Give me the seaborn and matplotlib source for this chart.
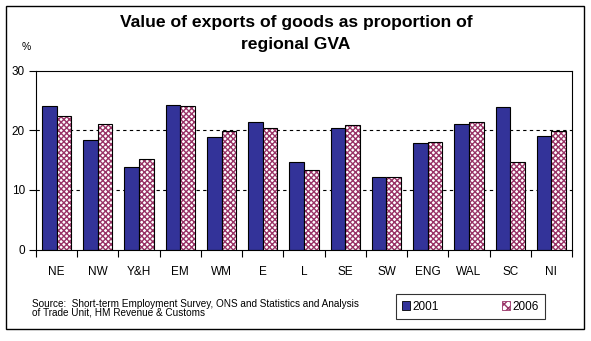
import matplotlib
matplotlib.use("Agg")
import matplotlib.pyplot as plt
import seaborn as sns
import pandas as pd
from matplotlib.patches import Rectangle, Patch
from matplotlib.ticker import FixedLocator

regions = ["NE", "NW", "Y&H", "EM", "WM", "E", "L", "SE", "SW", "ENG", "WAL", "SC", "NI"]
v2001 = [24.1, 18.3, 13.9, 24.3, 18.9, 21.3, 14.6, 20.3, 12.1, 17.8, 21.1, 23.8, 19.1]
v2006 = [22.3, 21.1, 15.2, 24.0, 19.9, 20.3, 13.4, 20.8, 12.2, 18.1, 21.4, 14.6, 19.8]
years = ["2001", "2006"]
yticks = [0, 10, 20, 30]

df = pd.DataFrame({
    "region": regions * 2,
    "year": [years[0]] * len(regions) + [years[1]] * len(regions),
    "value": v2001 + v2006,
})

sns.set_style("white")
plt.rcParams["font.family"] = ["Liberation Sans", "DejaVu Sans"]
plt.rcParams["hatch.linewidth"] = 1.0
for k in ["text.color", "axes.labelcolor", "xtick.color", "ytick.color"]:
    plt.rcParams[k] = "black"

fig = plt.figure(figsize=(5.91, 3.41), dpi=100)
ax = fig.add_axes([36/591, 91.5/341, 536/591, 179/341])

c2001 = "#333399"
c2006 = "#993366"
sns.barplot(data=df, x="region", y="value", hue="year", order=regions,
            hue_order=years, palette=[c2001, "white"], saturation=1,
            width=0.71, edgecolor="black", linewidth=0.8, ax=ax, legend=False,
            errorbar=None)

# second series: checkered pink pattern
n = len(regions)
for p in ax.patches[n:2*n]:
    p.set_facecolor("white")
    p.set_edgecolor(c2006)
    p.set_hatch("xxxxxx")
    p.set_linewidth(0)
    ax.add_patch(Rectangle(p.get_xy(), p.get_width(), p.get_height(),
                           facecolor="none", edgecolor="black", linewidth=0.8, zorder=p.get_zorder()+0.1))

ax.set_ylim(0, 30)
ax.set_xlim(-0.5, n - 0.5)
ax.set_yticks(yticks)
ax.set_yticklabels([str(t) for t in yticks], fontsize=8.5)
ax.tick_params(axis="y", length=5, width=0.8, direction="out", pad=3, left=True, colors="black")
ax.tick_params(axis="x", length=0, labelsize=8.5, pad=12, colors="black")
ax.xaxis.set_minor_locator(FixedLocator([i + 0.5 for i in range(-1, n)]))
ax.tick_params(axis="x", which="minor", length=5, width=0.8, direction="out", bottom=True, colors="black")
ax.set_xlabel("")
ax.set_ylabel("")
for y in [10, 20]:
    ax.axhline(y, color="black", linestyle=(0, (3, 3)), linewidth=0.8, zorder=0.5)
for s in ax.spines.values():
    s.set_visible(True)
    s.set_color("black")
    s.set_linewidth(0.8)

fig.text(296/591, 1 - 33.5/341, "Value of exports of goods as proportion of\nregional GVA",
         ha="center", va="center", fontsize=12.6, fontweight="bold", linespacing=1.55,
         color="black")
fig.text(22/591, 1 - 47/341, "%", fontsize=7.5, ha="left", va="center")
fig.text(32/591, 1 - 308/341,
         "Source:  Short-term Employment Survey, ONS and Statistics and Analysis\nof Trade Unit, HM Revenue & Customs",
         fontsize=7.2, ha="left", va="center", linespacing=0.85)

handles = [Patch(facecolor=c2001, edgecolor="black", linewidth=0.6),
           Patch(facecolor="white", edgecolor=c2006, hatch="xxxx", linewidth=0.6)]
leg = fig.legend(handles, years, loc="center", bbox_to_anchor=(470.5/591, 1 - 306.5/341),
                 ncol=2, fontsize=8.5, frameon=True, fancybox=False, edgecolor="black",
                 handlelength=0.7, handleheight=0.7, handletextpad=0.2, columnspacing=5.3,
                 borderpad=0.55, borderaxespad=0)
leg.get_frame().set_linewidth(0.8)
leg._legend_box.sep = 0

fig.add_artist(Rectangle((6/591, 1 - 329/341), 578/591, 323/341, transform=fig.transFigure,
                         facecolor="none", edgecolor="black", linewidth=1.0))

fig.savefig("out.png", dpi=100, facecolor="white")
